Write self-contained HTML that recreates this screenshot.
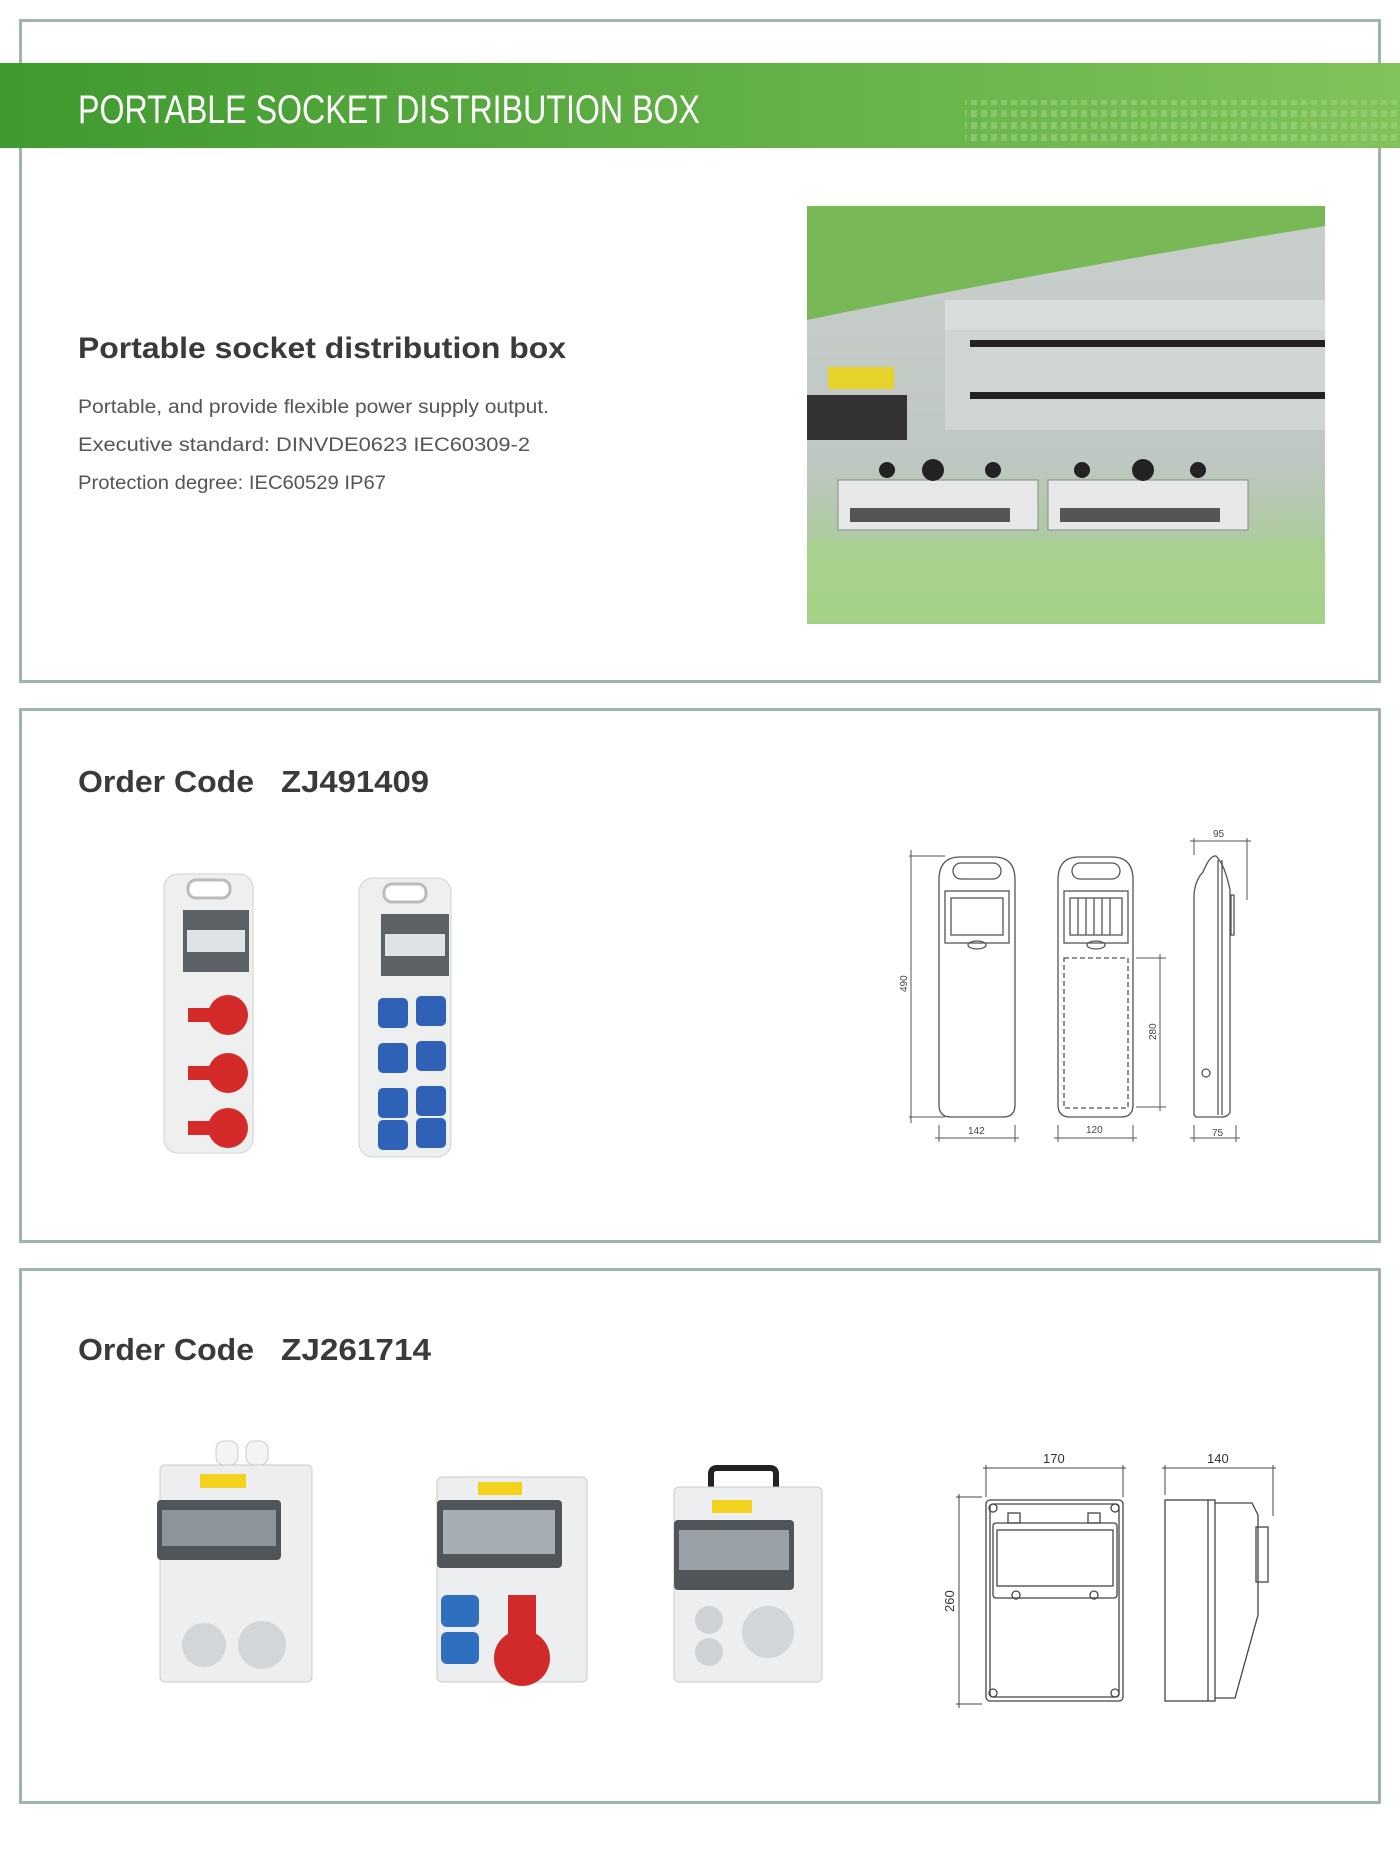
<!DOCTYPE html>
<html><head><meta charset="utf-8"><style>
html,body{margin:0;padding:0;background:#fff}
body{width:1400px;height:1862px;position:relative;overflow:hidden;font-family:"Liberation Sans",sans-serif}
svg{position:absolute;left:0;top:0}
</style></head><body>
<svg width="1400" height="1862" viewBox="0 0 1400 1862" xmlns="http://www.w3.org/2000/svg">
<defs>
<linearGradient id="ban" x1="0" x2="1"><stop offset="0" stop-color="#3f9a2f"/><stop offset="1" stop-color="#80c35a"/></linearGradient>
<linearGradient id="ph" x1="0" y1="0" x2="0" y2="1"><stop offset="0" stop-color="#c9cfcc"/><stop offset="0.6" stop-color="#bfc7c3"/><stop offset="1" stop-color="#9ccd7e"/></linearGradient>
<pattern id="dots" width="10" height="12" patternUnits="userSpaceOnUse"><rect x="1" y="2" width="6" height="7" fill="#9fd47f" opacity="0.55"/></pattern>
</defs>
<g fill="none" stroke="#9db6a6" stroke-width="3">
<rect x="20.5" y="20.5" width="1359" height="661"/>
<rect x="20.5" y="709.5" width="1359" height="532"/>
<rect x="20.5" y="1269.5" width="1359" height="533"/>
</g>
<rect x="0" y="63" width="1400" height="85" fill="url(#ban)"/>
<rect x="965" y="100" width="435" height="46" fill="url(#dots)"/>
<text x="78" y="123" font-size="40" fill="#fff" textLength="622" lengthAdjust="spacingAndGlyphs">PORTABLE SOCKET DISTRIBUTION BOX</text>
<text x="78" y="358" font-size="30" font-weight="bold" fill="#3a3a3a" textLength="488" lengthAdjust="spacingAndGlyphs">Portable socket distribution box</text>
<g font-size="19" fill="#555">
<text x="78" y="413" textLength="471" lengthAdjust="spacingAndGlyphs">Portable, and provide flexible power supply output.</text>
<text x="78" y="451" textLength="452" lengthAdjust="spacingAndGlyphs">Executive standard: DINVDE0623 IEC60309-2</text>
<text x="78" y="489" textLength="308" lengthAdjust="spacingAndGlyphs">Protection degree: IEC60529 IP67</text>
</g>
<!-- photo -->
<g>
<rect x="807" y="206" width="518" height="418" fill="url(#ph)"/>
<rect x="945" y="300" width="380" height="30" fill="#d8dcda"/>
<rect x="945" y="330" width="380" height="100" fill="#d0d4d2"/>
<rect x="970" y="340" width="355" height="7" fill="#222"/>
<rect x="970" y="392" width="355" height="7" fill="#222"/>
<rect x="828" y="367" width="66" height="22" fill="#e7d22a"/>
<rect x="807" y="395" width="100" height="45" fill="#333"/>
<rect x="838" y="480" width="200" height="50" fill="#e6e8e7" stroke="#888"/>
<rect x="1048" y="480" width="200" height="50" fill="#e6e8e7" stroke="#888"/>
<rect x="850" y="508" width="160" height="14" fill="#555"/>
<rect x="1060" y="508" width="160" height="14" fill="#555"/>
<g fill="#222"><circle cx="887" cy="470" r="8"/><circle cx="933" cy="470" r="11"/><circle cx="993" cy="470" r="8"/><circle cx="1082" cy="470" r="8"/><circle cx="1143" cy="470" r="11"/><circle cx="1198" cy="470" r="8"/></g>
<rect x="807" y="540" width="518" height="84" fill="#a8d38c" opacity="0.7"/>
<path d="M807 206 H1325 V226 Q1050 270 807 320 Z" fill="#6fb649" opacity="0.9"/>
</g>
<!-- order codes -->
<g font-size="31" font-weight="bold" fill="#3a3a3a">
<text x="78" y="792" textLength="176" lengthAdjust="spacingAndGlyphs">Order Code</text><text x="281" y="792" textLength="148" lengthAdjust="spacingAndGlyphs">ZJ491409</text>
<text x="78" y="1360" textLength="176" lengthAdjust="spacingAndGlyphs">Order Code</text><text x="281" y="1360" textLength="150" lengthAdjust="spacingAndGlyphs">ZJ261714</text>
</g>
<!-- red box -->
<g>
<rect x="164" y="874" width="89" height="279" rx="14" fill="#eef0f0" stroke="#cfd3d3"/>
<rect x="188" y="880" width="42" height="18" rx="8" fill="#fff" stroke="#bbb" stroke-width="3"/>
<rect x="183" y="910" width="66" height="62" fill="#5c6166"/>
<rect x="187" y="930" width="58" height="22" fill="#dfe3e6"/>
<g fill="#d52a2a">
<circle cx="228" cy="1015" r="20"/><rect x="188" y="1008" width="25" height="14"/>
<circle cx="228" cy="1073" r="20"/><rect x="188" y="1066" width="25" height="14"/>
<circle cx="228" cy="1128" r="20"/><rect x="188" y="1121" width="25" height="14"/>
</g>
<!-- blue box -->
<rect x="359" y="878" width="92" height="279" rx="14" fill="#eef0f0" stroke="#cfd3d3"/>
<rect x="384" y="884" width="42" height="18" rx="8" fill="#fff" stroke="#bbb" stroke-width="3"/>
<rect x="381" y="914" width="68" height="62" fill="#5c6166"/>
<rect x="385" y="934" width="60" height="22" fill="#dfe3e6"/>
<g fill="#2f62b6">
<rect x="378" y="998" width="30" height="30" rx="5"/><rect x="416" y="996" width="30" height="30" rx="5"/>
<rect x="378" y="1043" width="30" height="30" rx="5"/><rect x="416" y="1041" width="30" height="30" rx="5"/>
<rect x="378" y="1088" width="30" height="30" rx="5"/><rect x="416" y="1086" width="30" height="30" rx="5"/>
<rect x="378" y="1120" width="30" height="30" rx="5"/><rect x="416" y="1118" width="30" height="30" rx="5"/>
</g>
</g>
<!-- drawings 1 -->
<g fill="none" stroke="#555" stroke-width="1.3">
<path d="M939 1105 V880 Q939 857 960 857 H994 Q1015 857 1015 880 V1105 Q1015 1117 1003 1117 H951 Q939 1117 939 1105 Z"/>
<rect x="953" y="863" width="48" height="16" rx="8"/>
<rect x="945" y="891" width="64" height="52"/>
<rect x="951" y="898" width="52" height="37"/>
<ellipse cx="977" cy="945" rx="9" ry="4"/>
<path d="M1058 1105 V880 Q1058 857 1079 857 H1112 Q1133 857 1133 880 V1105 Q1133 1117 1121 1117 H1070 Q1058 1117 1058 1105 Z"/>
<rect x="1072" y="863" width="48" height="16" rx="8"/>
<rect x="1064" y="891" width="64" height="52"/>
<rect x="1070" y="898" width="52" height="37"/>
<path d="M1078 898V935M1086 898V935M1094 898V935M1102 898V935M1110 898V935"/>
<ellipse cx="1096" cy="945" rx="9" ry="4"/>
<rect x="1064" y="958" width="64" height="150" stroke-dasharray="5 3"/>
<path d="M1194 1115 V895 Q1195 880 1203 872 Q1210 855 1216 856 Q1225 865 1230 890 V1112 Q1228 1117 1222 1117 H1196 Z"/>
<path d="M1218 860 V1115 M1222 860 V1115"/>
<rect x="1231" y="895" width="3" height="40"/>
<circle cx="1206" cy="1073" r="4"/>
<g stroke-width="1">
<path d="M909 856 H945 M909 1117 H945 M911 850 V1123"/>
<path d="M939 1125 V1142 M1015 1125 V1142 M935 1138 H1019"/>
<path d="M1058 1125 V1142 M1133 1125 V1142 M1054 1138 H1137"/>
<path d="M1136 958 H1166 M1136 1107 H1166 M1160 954 V1111"/>
<path d="M1194 838 V855 M1247 838 V900 M1190 841 H1251"/>
<path d="M1194 1125 V1142 M1236 1125 V1142 M1190 1138 H1240"/>
</g>
</g>
<g font-size="10" fill="#444">
<text x="968" y="1134">142</text><text x="1086" y="1133">120</text><text x="1212" y="1136">75</text><text x="1213" y="837">95</text>
<text transform="translate(907 992) rotate(-90)">490</text>
<text transform="translate(1156 1040) rotate(-90)">280</text>
</g>
<!-- row 3 boxes -->
<g>
<rect x="216" y="1441" width="22" height="24" rx="8" fill="#f4f4f4" stroke="#ccc"/><rect x="246" y="1441" width="22" height="24" rx="8" fill="#f4f4f4" stroke="#ccc"/>
<rect x="160" y="1465" width="152" height="217" rx="5" fill="#eceeef" stroke="#c9cccd"/>
<rect x="200" y="1474" width="46" height="14" fill="#f2d21d"/>
<rect x="157" y="1500" width="124" height="60" rx="4" fill="#4f5559"/>
<rect x="162" y="1510" width="114" height="36" fill="#8d959b"/>
<circle cx="204" cy="1645" r="22" fill="#d3d6d8"/><circle cx="262" cy="1645" r="24" fill="#d3d6d8"/>

<rect x="437" y="1477" width="150" height="205" rx="5" fill="#eceeef" stroke="#c9cccd"/>
<rect x="478" y="1482" width="44" height="13" fill="#f2d21d"/>
<rect x="437" y="1500" width="125" height="68" rx="4" fill="#4f5559"/>
<rect x="443" y="1510" width="112" height="44" fill="#a7aeb3"/>
<rect x="441" y="1595" width="38" height="32" rx="6" fill="#2f6fc0"/><rect x="441" y="1632" width="38" height="32" rx="6" fill="#2f6fc0"/>
<circle cx="522" cy="1658" r="28" fill="#d12a2a"/><rect x="508" y="1595" width="28" height="40" fill="#d12a2a"/>

<path d="M711 1490 V1474 Q711 1468 717 1468 H770 Q776 1468 776 1474 V1490" fill="none" stroke="#222" stroke-width="6"/>
<rect x="674" y="1487" width="148" height="195" rx="5" fill="#eceeef" stroke="#c9cccd"/>
<rect x="712" y="1500" width="40" height="13" fill="#f2d21d"/>
<rect x="674" y="1520" width="120" height="70" rx="4" fill="#4f5559"/>
<rect x="679" y="1530" width="110" height="40" fill="#9aa2a7"/>
<circle cx="709" cy="1620" r="14" fill="#cfd2d4"/><circle cx="709" cy="1652" r="14" fill="#cfd2d4"/><circle cx="768" cy="1632" r="26" fill="#d3d6d8"/>
</g>
<!-- drawings 2 -->
<g fill="none" stroke="#444" stroke-width="1.3">
<rect x="986" y="1500" width="137" height="201" rx="4"/>
<rect x="990" y="1504" width="129" height="193" rx="3"/>
<rect x="993" y="1523" width="124" height="75" rx="3"/>
<rect x="997" y="1530" width="116" height="56"/>
<circle cx="993" cy="1508" r="4"/><circle cx="1115" cy="1508" r="4"/><circle cx="993" cy="1693" r="4"/><circle cx="1115" cy="1693" r="4"/>
<circle cx="1016" cy="1595" r="4"/><circle cx="1094" cy="1595" r="4"/>
<rect x="1008" y="1513" width="12" height="10"/><rect x="1088" y="1513" width="12" height="10"/>
<rect x="1165" y="1500" width="50" height="201"/>
<path d="M1208 1500 V1701 M1215 1503 H1252 L1258 1515 V1615 L1235 1698 H1215"/>
<rect x="1256" y="1527" width="12" height="55"/>
<g stroke-width="1">
<path d="M986 1465 V1497 M1123 1465 V1497 M983 1468 H1126"/>
<path d="M1165 1465 V1495 M1273 1465 V1516 M1162 1468 H1276"/>
<path d="M956 1497 H982 M956 1704 H982 M959 1494 V1708"/>
</g>
</g>
<g font-size="13" fill="#333">
<text x="1043" y="1463">170</text><text x="1207" y="1463">140</text>
<text transform="translate(954 1612) rotate(-90)">260</text>
</g>
</svg>
</body></html>
